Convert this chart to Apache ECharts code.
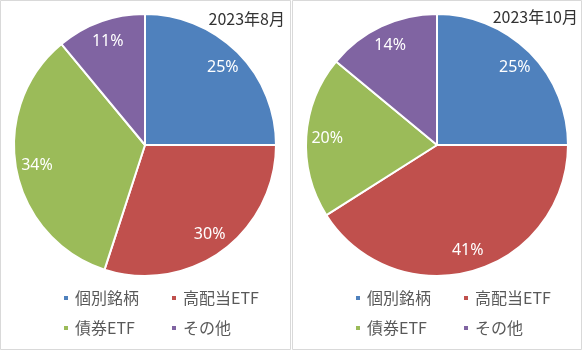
<!DOCTYPE html>
<html>
<head>
<meta charset="utf-8">
<script src="https://cdn.jsdelivr.net/npm/echarts@6/dist/echarts.min.js"></script>
<style>
    html,body{margin:0;padding:0;background:#fff;}
    #container{width:582px;height:351px;}
</style>
</head>
<body>
<div id="container"></div>
<script>
    // 資産配分
    var categories=['個別銘柄','高配当ETF','債券ETF','その他'];
    var aug2023=[25,30,34,11];
    var oct2023=[25,41,20,14];
    var titles=['2023年8月','2023年10月'];
    var colors=['#4F81BD','#C0504D','#9BBB59','#8064A2'];

    var font='"Noto Sans CJK JP", "Noto Sans", sans-serif';

    function toData(values){
        var list=[];
        for(var i=0;i<categories.length;i++){
            list.push({name:categories[i],value:values[i]});
        }
        return list;
    }

    function pieSeries(values,cx){
        return {
            type:'pie',
            center:[cx,145],
            radius:[0,131],
            startAngle:90,
            label:{show:false},
            labelLine:{show:false},
            emphasis:{disabled:true},
            itemStyle:{borderColor:'#fff',borderWidth:2},
            data:toData(values)
        };
    }

    // 透明なリングでラベル位置を外側へ
    function labelSeries(values,cx){
        return {
            type:'pie',
            center:[cx,145],
            radius:[83,131],
            startAngle:90,
            silent:true,
            itemStyle:{color:'rgba(0,0,0,0)',borderWidth:0},
            label:{
                show:true,
                position:'inside',
                formatter:'{c}%',
                color:'#fff',
                fontSize:16,
                fontFamily:'"Noto Sans", sans-serif'
            },
            labelLine:{show:false},
            data:toData(values)
        };
    }

    function legendItem(name,left,top){
        return {
            data:[name],
            left:left,
            top:top,
            padding:0,
            icon:'rect',
            itemWidth:6,
            itemHeight:6,
            selectedMode:false,
            textStyle:{
                color:'#595959',
                fontSize:16,
                fontFamily:font,
                padding:[0,0,0,1]
            }
        };
    }

    var legends=[];
    var cols=[[62,170],[354,462]];
    var rows=[290,320];
    for(var p=0;p<2;p++){
        legends.push(legendItem(categories[0],cols[p][0],rows[0]));
        legends.push(legendItem(categories[1],cols[p][1],rows[0]));
        legends.push(legendItem(categories[2],cols[p][0],rows[1]));
        legends.push(legendItem(categories[3],cols[p][1],rows[1]));
    }

    var dom=document.getElementById('container');
    var myChart=echarts.init(dom);
    var option={
        backgroundColor:'#ffffff',
        animation:false,
        color:colors,
        title:[{
            text:titles[0],
            right:297,
            top:11,
            padding:0,
            textStyle:{color:'#333',fontSize:16,fontWeight:'normal',fontFamily:font}
        },{
            text:titles[1],
            right:4,
            top:9,
            padding:0,
            textStyle:{color:'#333',fontSize:16,fontWeight:'normal',fontFamily:font}
        }],
        legend:legends,
        graphic:[{
            type:'rect',
            shape:{x:0.5,y:0.5,width:290,height:349},
            style:{fill:null,stroke:'#D9D9D9',lineWidth:1},
            silent:true
        },{
            type:'rect',
            shape:{x:292.5,y:0.5,width:289,height:349},
            style:{fill:null,stroke:'#D9D9D9',lineWidth:1},
            silent:true
        }],
        series:[
            pieSeries(aug2023,145),
            labelSeries(aug2023,145),
            pieSeries(oct2023,437),
            labelSeries(oct2023,437)
        ]
    };
    myChart.setOption(option);
</script>
</body>
</html>
